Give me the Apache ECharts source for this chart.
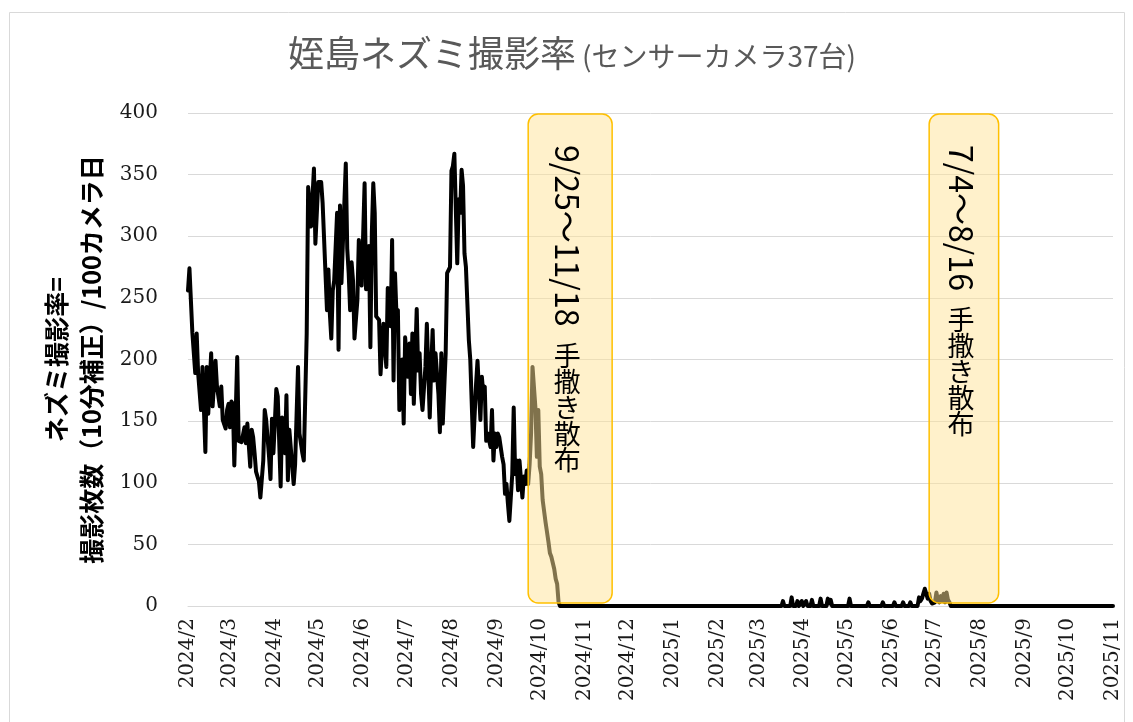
<!DOCTYPE html>
<html><head><meta charset="utf-8">
<script src="https://cdn.jsdelivr.net/npm/echarts@6/dist/echarts.min.js"></script>
<style>html,body{margin:0;padding:0;background:#fff}#c{width:1133px;height:722px}</style>
</head><body><div id="c"></div>
<script>
// ---- data ----
const titleMain = '姪島ネズミ撮影率';
const titleSub = '(センサーカメラ37台)';
const yName = 'ネズミ撮影率=\n撮影枚数（10分補正）/100カメラ日';
const yTicks = [0, 50, 100, 150, 200, 250, 300, 350, 400];
const monthTicks = ['2024-02-01','2024-03-01','2024-04-01','2024-05-01','2024-06-01','2024-07-01','2024-08-01','2024-09-01','2024-10-01','2024-11-01','2024-12-01','2025-01-01','2025-02-01','2025-03-01','2025-04-01','2025-05-01','2025-06-01','2025-07-01','2025-08-01','2025-09-01','2025-10-01','2025-11-01'];
const dates = [
 '2024-02-01','2024-02-02','2024-02-04','2024-02-05','2024-02-06','2024-02-07','2024-02-08','2024-02-10','2024-02-11','2024-02-13','2024-02-14','2024-02-15','2024-02-17','2024-02-18','2024-02-20','2024-02-21','2024-02-22','2024-02-23','2024-02-24','2024-02-25','2024-02-27','2024-02-28','2024-02-29',
 '2024-03-01','2024-03-02','2024-03-03','2024-03-04','2024-03-06','2024-03-07','2024-03-09','2024-03-11','2024-03-12','2024-03-13','2024-03-15','2024-03-16','2024-03-17','2024-03-18','2024-03-19','2024-03-21','2024-03-22','2024-03-23','2024-03-24','2024-03-25','2024-03-26','2024-03-28','2024-03-29','2024-03-30','2024-03-31',
 '2024-04-01','2024-04-02','2024-04-03','2024-04-05','2024-04-06','2024-04-08','2024-04-09','2024-04-10','2024-04-11','2024-04-14','2024-04-15','2024-04-17','2024-04-18','2024-04-20','2024-04-21','2024-04-23','2024-04-24','2024-04-25','2024-04-26','2024-04-28','2024-04-29',
 '2024-05-01','2024-05-03','2024-05-04','2024-05-07','2024-05-08','2024-05-09','2024-05-10','2024-05-11','2024-05-12','2024-05-14','2024-05-15','2024-05-16','2024-05-17','2024-05-18','2024-05-20','2024-05-21','2024-05-22','2024-05-23','2024-05-24','2024-05-25','2024-05-26','2024-05-28','2024-05-29','2024-05-31',
 '2024-06-02','2024-06-03','2024-06-05','2024-06-06','2024-06-07','2024-06-08','2024-06-09','2024-06-10','2024-06-12','2024-06-13','2024-06-15','2024-06-17','2024-06-18','2024-06-20','2024-06-21','2024-06-22','2024-06-23','2024-06-24','2024-06-25','2024-06-26','2024-06-28','2024-06-29','2024-06-30',
 '2024-07-02','2024-07-03','2024-07-04','2024-07-05','2024-07-06','2024-07-08','2024-07-09','2024-07-10','2024-07-11','2024-07-12','2024-07-14','2024-07-15','2024-07-17','2024-07-18','2024-07-19','2024-07-20','2024-07-21','2024-07-23','2024-07-24','2024-07-25','2024-07-26','2024-07-28','2024-07-29','2024-07-31',
 '2024-08-01','2024-08-02','2024-08-03','2024-08-05','2024-08-06','2024-08-07','2024-08-08','2024-08-09','2024-08-10','2024-08-11','2024-08-13','2024-08-14','2024-08-16','2024-08-18','2024-08-19','2024-08-21','2024-08-22','2024-08-23','2024-08-24','2024-08-25','2024-08-26','2024-08-28','2024-08-29','2024-08-30','2024-08-31',
 '2024-09-01','2024-09-02','2024-09-03','2024-09-05','2024-09-06','2024-09-07','2024-09-08','2024-09-09','2024-09-10','2024-09-12','2024-09-13','2024-09-14','2024-09-15','2024-09-16','2024-09-17','2024-09-19','2024-09-20','2024-09-21','2024-09-22','2024-09-23','2024-09-24','2024-09-25','2024-09-26','2024-09-28','2024-09-29','2024-09-30',
 '2024-10-01','2024-10-02','2024-10-03','2024-10-05','2024-10-06','2024-10-07','2024-10-08','2024-10-09','2024-10-11','2024-10-12','2024-10-13','2024-10-14','2024-10-15',
 '2025-03-17','2025-03-18','2025-03-19','2025-03-23','2025-03-24','2025-03-25','2025-03-27','2025-03-28','2025-03-29','2025-03-30','2025-03-31',
 '2025-04-01','2025-04-02','2025-04-03','2025-04-04','2025-04-06','2025-04-07','2025-04-08','2025-04-12','2025-04-13','2025-04-14','2025-04-17','2025-04-18','2025-04-19','2025-04-20','2025-04-21',
 '2025-05-02','2025-05-03','2025-05-04','2025-05-15','2025-05-16','2025-05-17','2025-05-25','2025-05-26','2025-05-27',
 '2025-06-02','2025-06-03','2025-06-04','2025-06-08','2025-06-09','2025-06-10','2025-06-13','2025-06-14','2025-06-15','2025-06-19','2025-06-20','2025-06-21','2025-06-22','2025-06-23','2025-06-24','2025-06-25','2025-06-26','2025-06-27','2025-06-28','2025-06-29','2025-06-30',
 '2025-07-01','2025-07-02','2025-07-03','2025-07-04','2025-07-05','2025-07-06','2025-07-07','2025-07-08','2025-07-09','2025-07-10','2025-07-11','2025-07-12',
 '2025-11-01'
];
const rates = [
 256,274,222,222,189,221,189,159,194,125,194,156,205,162,199,178,178,162,178,151,144,159,164,
 145,166,164,114,202,134,133,145,132,148,113,143,137,124,109,101,88,88,118,159,151,121,103,152,124,
 149,176,170,97,153,124,171,102,143,99,115,194,140,124,118,221,340,326,308,355,294,
 344,344,327,240,273,237,217,256,264,319,208,325,262,263,359,290,270,240,279,264,217,248,297,260,
 343,257,292,210,303,343,319,235,232,188,229,194,258,227,297,183,270,237,240,159,200,148,218,
 186,213,172,221,164,241,191,205,172,159,194,229,153,194,224,183,205,172,141,205,148,205,270,275,
 353,357,367,278,330,319,354,341,286,275,216,200,129,180,199,151,186,172,178,134,140,129,159,118,140,
 129,140,137,121,115,91,99,83,69,107,161,107,118,94,118,88,105,99,110,99,115,140,194,161,121,159,
 113,107,86,68,60,52,43,40,30,22,18,3,0,
 0,4,0,0,7,0,0,4,0,0,4,
 0,0,4,0,0,5,0,0,6,0,0,6,2,5,0,
 0,6,0,0,3,0,0,3,0,
 0,3,0,0,3,0,0,3,0,0,7,4,6,10,14,10,6,10,4,2,2,
 3,11,5,3,8,4,10,3,11,5,3,0,
 0
];
const sprayStart = ['2024-09-23', '2025-06-27'];
const sprayEnd = ['2024-11-20', '2025-08-14'];
const sprayPeriod = ['9/25～11/18', '7/4～8/16'];
const sprayMethod = ['手撒き散布', '手撒き散布'];

// ---- helpers ----
function toTime(s) { const p = s.split('-').map(Number); return new Date(p[0], p[1] - 1, p[2]).getTime(); }
const periodFontSize = 32, methodFontSize = 27;
const measureCtx = document.createElement('canvas').getContext('2d');
function textWidth(t, size) { measureCtx.font = size + 'px "Noto Sans CJK JP"'; return measureCtx.measureText(t).width; }

const lineData = dates.map((d, i) => [toTime(d), rates[i]]);
const boxData = sprayStart.map((s, i) => [toTime(s), toTime(sprayEnd[i]), i]);
const tickTimes = monthTicks.map(toTime);

const chart = echarts.init(document.getElementById('c'), null, { renderer: 'canvas' });
chart.setOption({
  animation: false,
  backgroundColor: '#fff',
  graphic: [{
    type: 'rect', silent: true, z: -10,
    shape: { x: 9.5, y: 12.5, width: 1115, height: 740 },
    style: { fill: '#fff', stroke: '#d9d9d9', lineWidth: 1 }
  }],
  title: {
    text: '{a|' + titleMain + '}{b|' + titleSub + '}',
    left: 283, top: 30,
    textStyle: {
      fontWeight: 'normal',
      rich: {
        a: { fontFamily: 'Noto Sans CJK JP', fontSize: 36, fontWeight: 'normal', color: '#595959' },
        b: { fontFamily: 'Noto Sans CJK JP', fontSize: 28, fontWeight: 'normal', color: '#595959', padding: [6, 0, 0, 6] }
      }
    }
  },
  grid: { left: 188, right: 20, top: 113, bottom: 116, containLabel: false },
  xAxis: {
    type: 'value',
    min: tickTimes[0], max: tickTimes[tickTimes.length - 1],
    axisLine: { show: true, lineStyle: { color: '#d9d9d9', width: 1 } },
    axisTick: { show: false },
    splitLine: { show: false },
    axisLabel: {
      customValues: tickTimes,
      showMinLabel: true, showMaxLabel: true,
      rotate: 90, margin: 12,
      fontFamily: 'DejaVu Serif', fontSize: 20, color: '#1a1a1a',
      formatter: function (v) { const d = new Date(v); return d.getFullYear() + '/' + (d.getMonth() + 1); }
    }
  },
  yAxis: {
    type: 'value', min: yTicks[0], max: yTicks[yTicks.length - 1], interval: 50,
    name: yName, nameLocation: 'middle', nameRotate: 90, nameGap: 76,
    nameTextStyle: { fontFamily: 'Noto Sans CJK JP', fontSize: 25, fontWeight: 'bold', color: '#000', lineHeight: 35, align: 'center' },
    axisLine: { show: false }, axisTick: { show: false },
    splitLine: { lineStyle: { color: '#d9d9d9', width: 1 } },
    axisLabel: { fontFamily: 'DejaVu Serif', fontSize: 20, color: '#1a1a1a', margin: 30 }
  },
  series: [
    {
      type: 'line', name: 'rate', data: lineData, z: 2,
      showSymbol: false, symbol: 'none', smooth: false,
      lineStyle: { color: '#000', width: 4, join: 'round', cap: 'round' }
    },
    {
      type: 'custom', name: 'spray', data: boxData, z: 5, clip: false,
      encode: { x: [0, 1] },
      renderItem: function (params, api) {
        const i = api.value(2);
        const pTop = api.coord([api.value(0), 400]);
        const pBot = api.coord([api.value(1), 0]);
        const x0 = pTop[0], y0 = pTop[1] + 1, x1 = pBot[0], y1 = pBot[1] - 3;
        const cx = (x0 + x1) / 2 - 3;
        const ty = y0 + 31;
        const w = textWidth(sprayPeriod[i], periodFontSize);
        return {
          type: 'group',
          children: [
            { type: 'rect', shape: { x: x0, y: y0, width: x1 - x0, height: y1 - y0, r: 10 },
              style: { fill: 'rgba(255,228,152,0.5)', stroke: '#FFC000', lineWidth: 1.5 } },
            { type: 'text', x: cx, y: ty, rotation: -Math.PI / 2,
              style: { text: sprayPeriod[i], fontFamily: 'Noto Sans CJK JP', fontSize: periodFontSize, fill: '#000', align: 'left', verticalAlign: 'middle' } },
            { type: 'text', x: cx, y: ty + w + 16,
              style: { text: sprayMethod[i].split('').join('\n'), fontFamily: 'Noto Sans CJK JP', fontSize: methodFontSize, lineHeight: 26, fill: '#000', align: 'center', verticalAlign: 'top' } }
          ]
        };
      }
    }
  ]
});
</script>
</body></html>
